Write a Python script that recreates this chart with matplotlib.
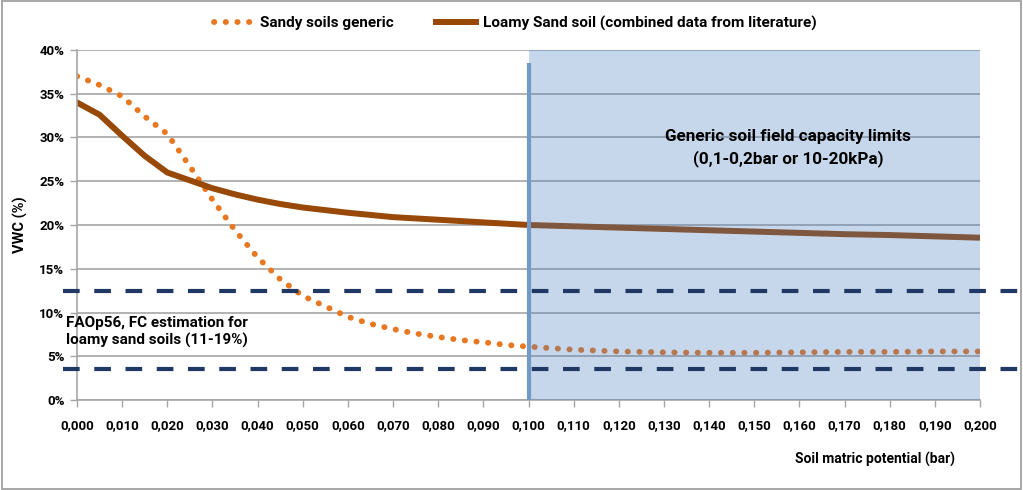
import numpy as np
import matplotlib
matplotlib.use('Agg')
import matplotlib.pyplot as plt
import matplotlib.patches as patches
from matplotlib.ticker import FuncFormatter, MultipleLocator

plt.rcParams['font.family'] = ['Roboto', 'DejaVu Sans']
plt.rcParams['font.weight'] = 'bold'

# soil matric potential (bar)
pot = [0.000, 0.005, 0.010, 0.015, 0.020, 0.025, 0.030, 0.035, 0.040, 0.045,
       0.050, 0.055, 0.060, 0.065, 0.070, 0.075, 0.080, 0.085, 0.090, 0.095,
       0.100, 0.110, 0.120, 0.130, 0.140, 0.150, 0.160, 0.170, 0.180, 0.190,
       0.200]
# VWC (fraction)
sandy = [0.370, 0.360, 0.347, 0.324, 0.304, 0.267, 0.229, 0.194, 0.163, 0.138,
         0.119, 0.107, 0.095, 0.087, 0.081, 0.076, 0.072, 0.0685, 0.066, 0.063,
         0.061, 0.0575, 0.0555, 0.0545, 0.054, 0.054, 0.0545, 0.055, 0.055, 0.0555,
         0.0555]
loamy = [0.340, 0.326, 0.302, 0.279, 0.260, 0.251, 0.242, 0.235, 0.229, 0.224,
         0.220, 0.217, 0.214, 0.2115, 0.209, 0.2075, 0.206, 0.2045, 0.203, 0.2015,
         0.200, 0.1985, 0.197, 0.1955, 0.194, 0.1925, 0.191, 0.1895, 0.1885, 0.187,
         0.1855]
fao_limits = [0.125, 0.035]
fc_range = [0.100, 0.200]
fc_line_top = 0.385

fig = plt.figure(figsize=(10.23, 4.90), dpi=100)
ax = fig.add_axes([77/1023., 1-400/490., 903/1023., 350/490.])

ax.plot(pot, sandy, color='#e87722', lw=4.2, linestyle=(0, (0.05, 1.95)),
        dash_capstyle='round', zorder=2, label='Sandy soils generic')
ax.plot(pot, loamy, color='#984807', lw=4.3, zorder=2,
        label='Loamy Sand soil (combined data from literature)')

# semi transparent field capacity band, lines show through it
ax.axvspan(fc_range[0], fc_range[1], color='#477dbf', alpha=0.3, lw=0, zorder=3)
ax.plot([fc_range[0], fc_range[0]], [0, fc_line_top], color='#7399c6', lw=3,
        solid_capstyle='butt', zorder=5)

for lim in fao_limits:
    ax.plot([-0.0031, 0.2105], [lim, lim], color='#1f3864', lw=3,
            linestyle=(0, (4.0, 3.5)), clip_on=False, zorder=6)

ax.set_xlim(0, 0.2)
ax.set_ylim(0, 0.40)
ax.xaxis.set_major_locator(MultipleLocator(0.01))
ax.yaxis.set_major_locator(MultipleLocator(0.05))
ax.xaxis.set_major_formatter(FuncFormatter(lambda v, p: ('%.3f' % v).replace('.', ',')))
ax.yaxis.set_major_formatter(FuncFormatter(lambda v, p: '%d%%' % round(v*100)))
ax.grid(axis='y', color='#a6a6a6', lw=1.2, zorder=1)
ax.set_axisbelow(True)
for s in ['top', 'right']:
    ax.spines[s].set_visible(False)
for s in ['left', 'bottom']:
    ax.spines[s].set_color('#a6a6a6')
    ax.spines[s].set_linewidth(1.2)
ax.tick_params(axis='both', colors='#a6a6a6', length=5, width=1, labelcolor='black',
               labelsize=9.5)
ax.tick_params(axis='x', pad=9)
ax.tick_params(axis='y', pad=4)
for lab in ax.get_xticklabels() + ax.get_yticklabels():
    lab.set_fontweight('bold')

ax.set_ylabel('VWC (%)', fontsize=10.5, fontweight='bold', labelpad=8)
fig.text(955/1023., 1-459/490., 'Soil matric potential (bar)', ha='right', va='center',
         fontsize=10, fontweight='bold')

fig.text(66/1023., 1-332/490., 'FAOp56, FC estimation for\nloamy sand soils (11-19%)',
         ha='left', va='center', fontsize=11, fontweight='bold', linespacing=1.3)
ax.text(0.1575, 0.288, 'Generic soil field capacity limits\n(0,1-0,2bar or 10-20kPa)',
        ha='center', va='center', fontsize=12.3, fontweight='bold', linespacing=1.45,
        zorder=7)

fig.legend(loc='center', bbox_to_anchor=(515/1023., 1-23/490.), ncol=2, frameon=False,
           handlelength=2.6, columnspacing=2.75, handletextpad=0.45,
           prop={'weight': 'bold', 'size': 11})

fig.patches.append(patches.Rectangle((0.002, 0.003), 0.996, 0.994, transform=fig.transFigure,
                                     fill=False, edgecolor='#a0a0a0', lw=1.3))

fig.savefig('out.png', dpi=100)
